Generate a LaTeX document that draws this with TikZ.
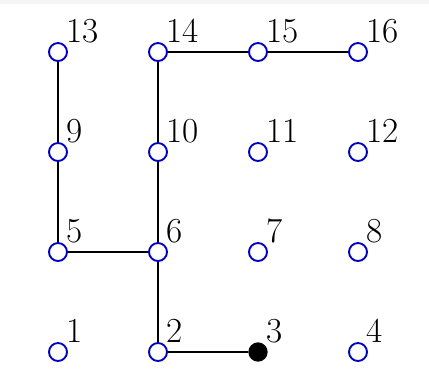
\documentclass[tikz,border=0pt]{standalone}
\begin{document}
\begin{tikzpicture}[x=1.5cm, y=1.5cm,
  vtx/.style={circle, draw=blue!75!black, line width=0.8pt, fill=white,
    inner sep=0pt, minimum size=0.27cm},
  vtxon/.style={circle, fill=black, inner sep=0pt, minimum size=0.29cm},
  num/.style={anchor=base west, inner sep=0pt, font=\fontsize{15}{17}\selectfont},
  edge/.style={line width=0.7pt}]
  %% 枠
  \useasboundingbox (-0.58,-0.32) rectangle (3.71,3.52);
  \fill[white] (-0.58,-0.32) rectangle (3.71,3.52);
  \fill[gray!8] (-0.58,3.48) rectangle (3.71,3.52);

  %% 頂点 1..16（4x4 格子）
  \foreach \r in {0,...,3} {
    \foreach \c in {0,...,3} {
      \pgfmathtruncatemacro\n{4*\r+\c+1}
      \ifnum\n=3
        \node[vtxon] (v\n) at (\c,\r) {};
      \else
        \node[vtx] (v\n) at (\c,\r) {};
      \fi
      \node[num] (lbl\n) at (\c+0.08,\r+0.1) {\n};
    }
  }

  %% 経路
  \draw[edge] (v13) -- (v9) -- (v5) -- (v6);
  \draw[edge] (v6) -- (v10) -- (v14) -- (v15) -- (v16);
  \draw[edge] (v6) -- (v2) -- (v3);
\end{tikzpicture}
\end{document}
